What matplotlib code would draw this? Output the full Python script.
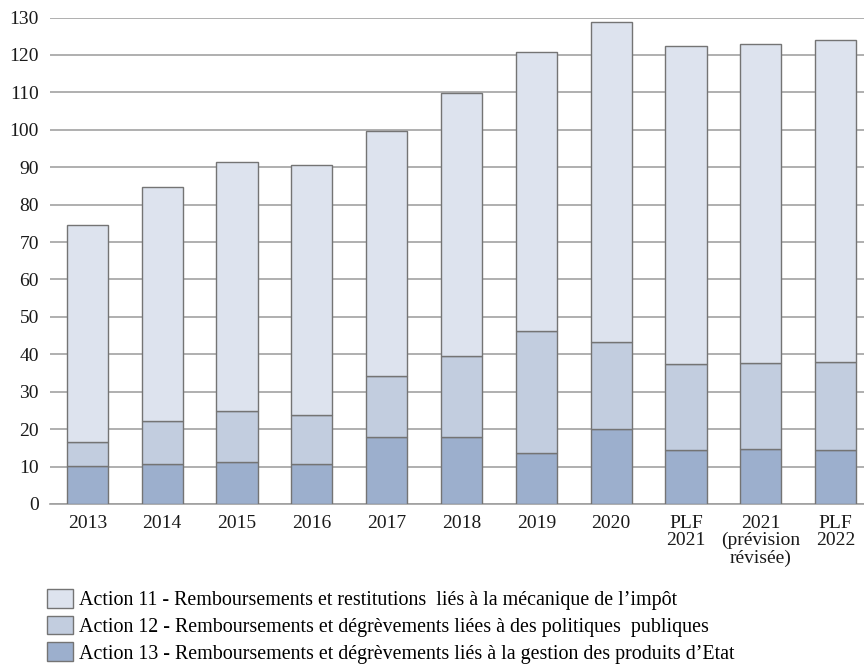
import matplotlib
matplotlib.use("Agg")
from matplotlib import pyplot as plt
import numpy as np

plt.rcParams['font.family'] = ['Liberation Serif', 'DejaVu Serif']

labels = ['2013', '2014', '2015', '2016', '2017', '2018', '2019', '2020',
          'PLF\n2021', '2021\n(prévision\nrévisée)', 'PLF\n2022']
action11 = [57.9, 62.4, 66.5, 66.9, 65.7, 70.2, 74.5, 85.5, 84.9, 85.4, 85.9]
action12 = [6.5, 11.6, 13.5, 13.0, 16.2, 21.8, 32.7, 23.4, 23.2, 22.9, 23.7]
action13 = [10.2, 10.6, 11.3, 10.7, 17.9, 17.8, 13.6, 20.0, 14.3, 14.7, 14.3]
series_names = ["Action 11 - Remboursements et restitutions  liés à la mécanique de l’impôt",
                "Action 12 - Remboursements et dégrèvements liées à des politiques  publiques",
                "Action 13 - Remboursements et dégrèvements liés à la gestion des produits d’Etat"]
colors = ['#dde3ee', '#c2cddf', '#9cafcd']

fig = plt.figure(figsize=(8.64, 6.68), dpi=100)
ax = fig.add_axes([50/864, 164/668, 823/864, 486.5/668])

x = np.arange(len(labels))
a11 = np.array(action11)
a12 = np.array(action12)
a13 = np.array(action13)
w = 0.55
ec = '#747474'
b13 = ax.bar(x, a13, w, color=colors[2], edgecolor=ec, linewidth=1, zorder=3)
b12 = ax.bar(x, a12, w, bottom=a13, color=colors[1], edgecolor=ec, linewidth=1, zorder=3)
b11 = ax.bar(x, a11, w, bottom=a13 + a12, color=colors[0], edgecolor=ec, linewidth=1, zorder=3)

ax.set_xlim(-0.5, len(labels) - 0.5)
ax.set_ylim(0, 130)
ax.set_yticks(np.arange(0, 131, 10))
ax.yaxis.grid(True, color='#9a9a9a', linewidth=1.1, zorder=0)
ax.set_axisbelow(True)
for s in ['left', 'right', 'top']:
    ax.spines[s].set_visible(False)
ax.spines['bottom'].set_color('#a0a0a0')
ax.spines['bottom'].set_linewidth(1.2)
ax.set_xticks(x)
ax.set_xticklabels(labels, fontsize=14, linespacing=1.0)
ax.tick_params(axis='both', length=0, labelsize=14, colors='#1a1a1a')
ax.tick_params(axis='x', pad=8)
ax.tick_params(axis='y', pad=8)

fig.legend([b11, b12, b13], series_names, loc='upper left', bbox_to_anchor=(47/864, 1 - 589/668),
           frameon=False, fontsize=14.4, borderaxespad=0, borderpad=0,
           handlelength=1.3, handleheight=1.05, handletextpad=0.28, labelspacing=0.28)

plt.savefig('out.png', dpi=100)
